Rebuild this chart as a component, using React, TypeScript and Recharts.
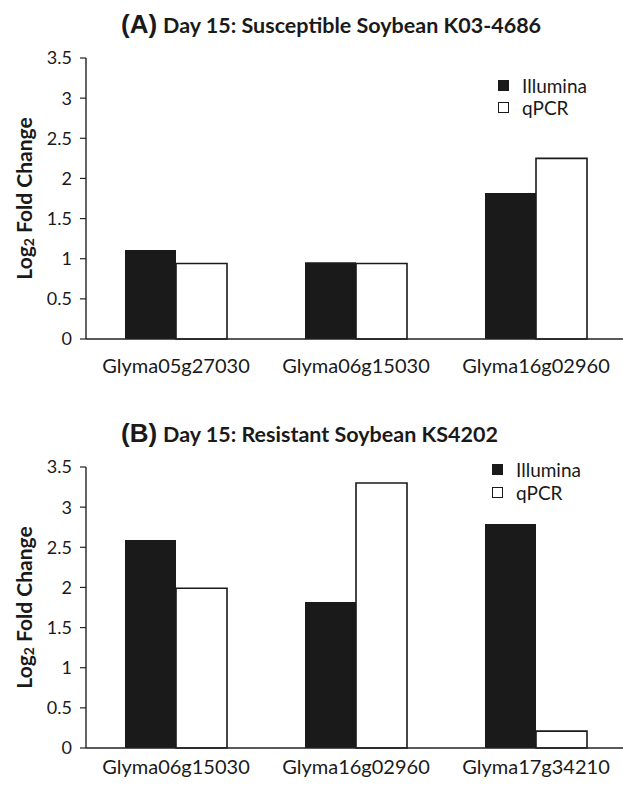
import { BarChart, Bar, XAxis, YAxis, Legend } from "recharts";

const genesA = ["Glyma05g27030", "Glyma06g15030", "Glyma16g02960"];
const illuminaA = [1.11, 0.955, 1.82];
const qpcrA = [0.94, 0.94, 2.25];

const genesB = ["Glyma06g15030", "Glyma16g02960", "Glyma17g34210"];
const illuminaB = [2.59, 1.82, 2.79];
const qpcrB = [1.99, 3.3, 0.21];

const yTicks = [0, 0.5, 1, 1.5, 2, 2.5, 3, 3.5];
const seriesNames = ["Illumina", "qPCR"];

const FONT = "Lato, 'Open Sans', sans-serif";
const INK = "#1a1a1a";
const AXIS = "#222";

// rotated y label with the subscript 2
const YLabel = ({ viewBox }: any) => {
  const cy = viewBox.y + viewBox.height / 2;
  const cx = 23;
  return (
    <text
      x={cx}
      y={cy}
      transform={`rotate(-90, ${cx}, ${cy})`}
      textAnchor="middle"
      dominantBaseline="central"
      fontFamily={FONT}
      fontWeight="bold"
      fontSize={21}
      fill={INK}
    >
      Log
      <tspan dy={5} fontSize={14}>2</tspan>
      <tspan dy={-5}> Fold Change</tspan>
    </text>
  );
};

const LegendBox = ({ rowHeight }: any) => (
  <div style={{ fontFamily: FONT, fontSize: 19, color: INK }}>
    {seriesNames.map((name, i) => (
      <div key={name} style={{ display: "flex", alignItems: "center", height: rowHeight }}>
        <span
          style={{
            boxSizing: "border-box",
            width: 11,
            height: 11,
            background: i === 0 ? INK : "#fff",
            border: i === 0 ? "none" : `1.5px solid ${INK}`,
            marginRight: 13,
          }}
        />
        <span>{name}</span>
      </div>
    ))}
  </div>
);

type PanelProps = {
  genes: string[];
  illumina: number[];
  qpcr: number[];
  height: number;
  top: number;
  bottom: number;
  xHeight: number;
  labelGap: number;
  legendTop: number;
  legendLeft: number;
  legendRow: number;
};

function Panel(p: PanelProps) {
  const data = p.genes.map((g, i) => ({ gene: g, illumina: p.illumina[i], qpcr: p.qpcr[i] }));
  return (
    <BarChart
      width={626}
      height={p.height}
      data={data}
      margin={{ top: p.top, right: 0, bottom: p.bottom, left: 0 }}
      barGap={0}
    >
      <XAxis
        dataKey="gene"
        height={p.xHeight}
        tickLine={false}
        tickSize={6}
        tickMargin={p.labelGap}
        axisLine={{ stroke: AXIS, strokeWidth: 1.4 }}
        tick={{ fontFamily: FONT, fontSize: 20, fill: INK }}
        interval={0}
      />
      <YAxis
        width={86}
        domain={[0, 3.5]}
        ticks={yTicks}
        interval={0}
        tickSize={6}
        tickMargin={8}
        axisLine={{ stroke: AXIS, strokeWidth: 1.4 }}
        tickLine={{ stroke: AXIS, strokeWidth: 1.2 }}
        tick={{ fontFamily: FONT, fontSize: 18, fill: INK }}
        label={<YLabel />}
      />
      <Legend
        layout="vertical"
        align="center"
        verticalAlign="middle"
        content={<LegendBox rowHeight={p.legendRow} />}
        wrapperStyle={{ top: p.legendTop, left: p.legendLeft, width: 120 }}
      />
      <Bar dataKey="illumina" name="Illumina" barSize={51} fill={INK} isAnimationActive={false} />
      <Bar
        dataKey="qpcr"
        name="qPCR"
        barSize={51}
        fill="#fff"
        stroke={INK}
        strokeWidth={1.6}
        isAnimationActive={false}
      />
    </BarChart>
  );
}

export default function App() {
  return (
    <div
      style={{
        position: "absolute",
        top: 0,
        left: 0,
        width: 623,
        height: 785,
        overflow: "hidden",
        background: "#fff",
      }}
    >
      <div style={{ position: "absolute", top: 0, left: 0 }}>
        <Panel
          genes={genesA}
          illumina={illuminaA}
          qpcr={qpcrA}
          height={390}
          top={58}
          bottom={11}
          xHeight={40}
          labelGap={14}
          legendTop={74.5}
          legendLeft={498}
          legendRow={22}
        />
      </div>
      <div style={{ position: "absolute", top: 390, left: 0 }}>
        <Panel
          genes={genesB}
          illumina={illuminaB}
          qpcr={qpcrB}
          height={395}
          top={77}
          bottom={7}
          xHeight={30}
          labelGap={6}
          legendTop={67.5}
          legendLeft={492}
          legendRow={23}
        />
      </div>
      <svg
        width={623}
        height={785}
        style={{ position: "absolute", top: 0, left: 0, pointerEvents: "none" }}
      >
        <text x={121} y={33} fill={INK} fontWeight="bold">
          <tspan fontFamily="'Liberation Sans', Arial, sans-serif" fontSize={26}>(A)</tspan>
          <tspan fontFamily={FONT} fontSize={21.5} dx={6}>Day 15: Susceptible Soybean K03-4686</tspan>
        </text>
        <text x={121} y={442} fill={INK} fontWeight="bold">
          <tspan fontFamily="'Liberation Sans', Arial, sans-serif" fontSize={26}>(B)</tspan>
          <tspan fontFamily={FONT} fontSize={21.5} dx={6}>Day 15: Resistant Soybean KS4202</tspan>
        </text>
      </svg>
    </div>
  );
}
